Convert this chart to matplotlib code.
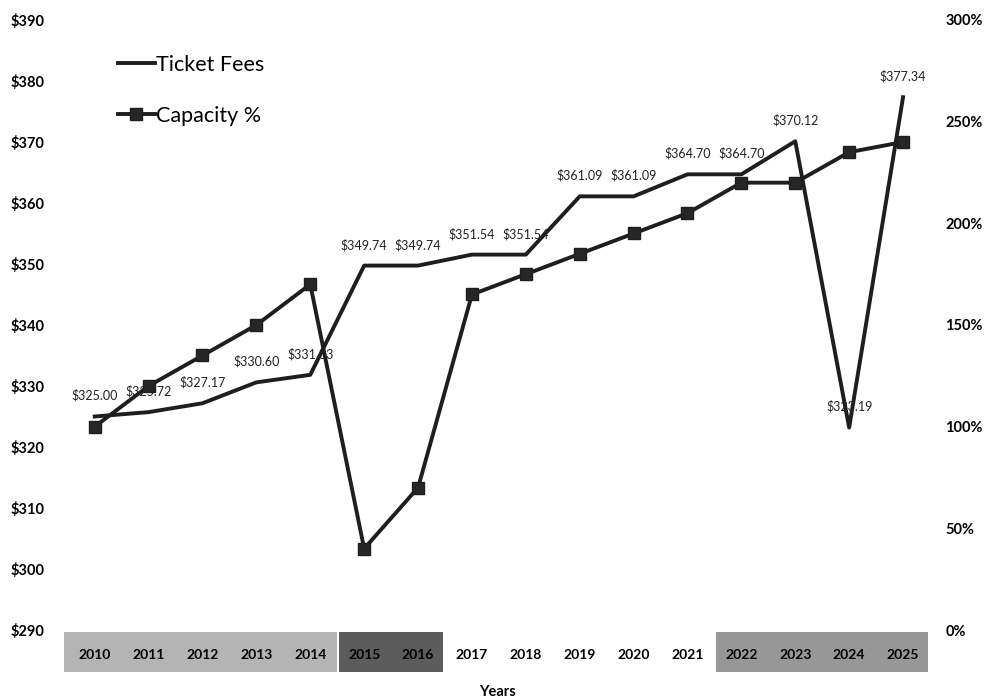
import numpy as np
import matplotlib.pyplot as plt
from matplotlib.patches import Rectangle
import matplotlib.transforms as mtransforms

plt.rcParams['font.family'] = ['Lato', 'DejaVu Sans']

years = list(range(2010, 2026))
ticket_fees = [325.00, 325.72, 327.17, 330.60, 331.83, 349.74, 349.74, 351.54,
               351.54, 361.09, 361.09, 364.70, 364.70, 370.12, 323.19, 377.34]
capacity_pct = [100, 120, 135, 150, 170, 40, 70, 165,
                175, 185, 195, 205, 220, 220, 235, 240]

left_ticks = list(range(290, 391, 10))
right_ticks = list(range(0, 301, 50))

# shaded year groups under the axis: (first, last, colour)
year_groups = [(2010, 2014, '#b4b4b4'), (2015, 2016, '#5c5c5c'), (2022, 2025, '#979797')]

fig = plt.figure(figsize=(9.91, 6.99), dpi=100)
ax = fig.add_axes([64/991, 1-630/699, (930-64)/991, (630-20)/699])
ax2 = ax.twinx()

l1, = ax.plot(years, ticket_fees, color='#1e1e1e', lw=2.8, label='Ticket Fees', zorder=3)
l2, = ax2.plot(years, capacity_pct, color='#1e1e1e', lw=2.8, marker='s', markersize=8,
               markerfacecolor='#262626', label='Capacity %', zorder=3)

for x, v in zip(years, ticket_fees):
    ax.annotate('$%.2f' % v, (x, v), xytext=(0, 15), textcoords='offset points',
                ha='center', va='center', fontsize=9, color='#222222')

ax.set_xlim(years[0]-0.57, years[-1]+0.5)
ax.set_ylim(290, 390)
ax2.set_ylim(0, 300)

ax.set_yticks(left_ticks)
ax.set_yticklabels(['$%d' % t for t in left_ticks], fontweight='bold', fontsize=10.5)
ax2.set_yticks(right_ticks)
ax2.set_yticklabels(['%d%%' % t for t in right_ticks], fontweight='bold', fontsize=10.5)
ax.set_xticks(years)
ax.set_xticklabels([str(y) for y in years], fontweight='bold', fontsize=10)

ax.tick_params(axis='x', length=0, pad=14)
ax.tick_params(axis='y', length=0, pad=14)
ax2.tick_params(axis='y', length=0, pad=11)

for a in (ax, ax2):
    for s in a.spines.values():
        s.set_visible(False)

trans = mtransforms.blended_transform_factory(ax.transData, ax.transAxes)
for first, last, col in year_groups:
    x0 = first - 0.57 if first == years[0] else first - 0.47
    w = (last - first) + (1.07 if first == years[0] else 0.93)
    r = Rectangle((x0, -0.069), w, 0.066, transform=trans,
                  facecolor=col, edgecolor='none', clip_on=False, zorder=0)
    ax.add_patch(r)

ax.set_xlabel('Years', fontweight='bold', fontsize=10.5, labelpad=17)

leg = ax.legend([l1, l2], ['Ticket Fees', 'Capacity %'], loc='upper left',
                bbox_to_anchor=(0.04, 0.975), frameon=False, fontsize=15.5,
                handlelength=1.7, handletextpad=0.05, labelspacing=1.45)

fig.savefig('out.png', dpi=100)
